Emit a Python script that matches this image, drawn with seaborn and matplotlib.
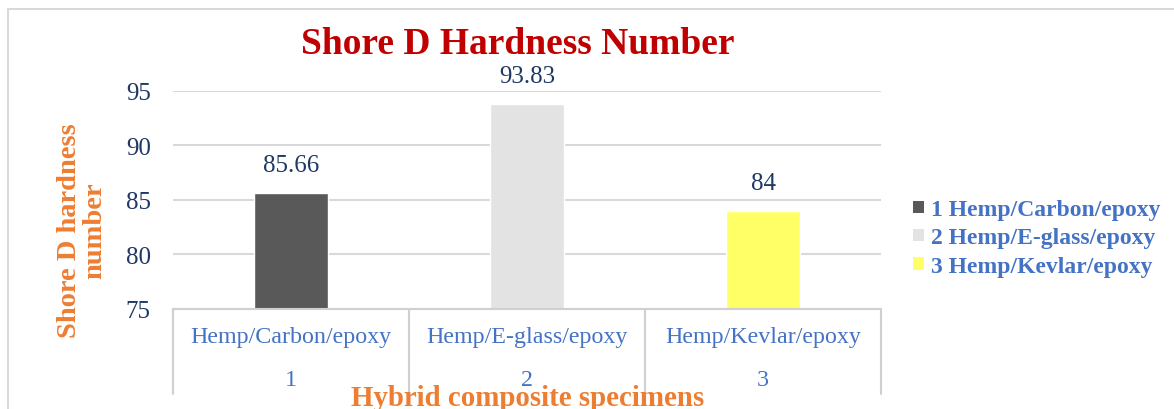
import matplotlib
matplotlib.use("Agg")
import matplotlib.pyplot as plt
import matplotlib.transforms as mtransforms
from matplotlib.patches import Rectangle, Patch
import seaborn as sns
import pandas as pd

categories = ["Hemp/Carbon/epoxy", "Hemp/E-glass/epoxy", "Hemp/Kevlar/epoxy"]
numbers = ["1", "2", "3"]
values = [85.66, 93.83, 84]
value_labels = ["85.66", "93.83", "84"]
colors = ["#595959", "#E3E3E3", "#FFFF66"]
yticks = [75, 80, 85, 90, 95]

sns.set_theme(style="white")
plt.rcParams['font.family'] = ['Liberation Serif', 'DejaVu Serif']

df = pd.DataFrame({"cat": categories, "val": values})

fig = plt.figure(figsize=(11.74, 4.10), dpi=100)
ax = fig.add_axes([173/1174, 1-310/410, (881-173)/1174, (310-92)/410])

sns.barplot(data=df, x="cat", y="val", hue="cat", palette=colors, width=0.31,
            legend=False, ax=ax, saturation=1)

ax.set_ylim(75, 95)
ax.set_xlim(-0.5, 2.5)
ax.set_yticks(yticks)
ax.yaxis.grid(True, color="#D9D9D9", linewidth=1.5)
ax.set_axisbelow(True)
for s in ["top", "right", "left"]:
    ax.spines[s].set_visible(False)
ax.spines["bottom"].set_color("#D0D0D0")
ax.spines["bottom"].set_linewidth(1.5)
ax.tick_params(axis="y", length=0, pad=16, labelsize=18, labelcolor="#1F3864")
ax.set_xticks([])
ax.set_xlabel("")
ax.set_ylabel("")

# data labels
for i, (v, lab) in enumerate(zip(values, value_labels)):
    ax.annotate(lab, (i, v), xytext=(0, 12), textcoords="offset points",
                ha="center", va="bottom", fontsize=18, color="#1F3864",
                annotation_clip=False)

# two-level category axis
trans = mtransforms.blended_transform_factory(ax.transData, ax.transAxes)
for i, (c, n) in enumerate(zip(categories, numbers)):
    ax.text(i, -0.128, c, transform=trans, ha="center", va="center",
            fontsize=17.3, color="#4472C4")
    ax.text(i, -0.322, n, transform=trans, ha="center", va="center",
            fontsize=17.3, color="#4472C4")
for xs in [-0.5, 0.5, 1.5, 2.5]:
    ax.plot([xs, xs], [0, -0.39], transform=trans, color="#D0D0D0",
            linewidth=1.5, clip_on=False)

# titles
fig.text(518/1174, 1-45/410, "Shore D Hardness Number", ha="center", va="center",
         fontsize=27, fontweight="bold", color="#C00000")
fig.text(82/1174, 1-231/410, "Shore D hardness\nnumber", ha="center", va="center",
         rotation=90, fontsize=20.5, fontweight="bold", color="#ED7D31",
         linespacing=1.05)
fig.text(528/1174, 1-399/410, "Hybrid composite specimens", ha="center", va="center",
         fontsize=20.8, fontweight="bold", color="#ED7D31")

# legend
handles = [Patch(facecolor=c, edgecolor="none") for c in colors]
labels = [f"{n} {c}" for n, c in zip(numbers, categories)]
leg = fig.legend(handles, labels, loc="center left",
                 bbox_to_anchor=(892/1174, 1-239/410), frameon=False,
                 handlelength=0.45, handleheight=0.45, handletextpad=0.3,
                 labelspacing=0.3, prop={"weight": "bold", "size": 17})
for t in leg.get_texts():
    t.set_color("#4472C4")

# outer frame
fig.patches.append(Rectangle((8/1174, -0.1), 1.2, 1.1 - 10/410,
                             transform=fig.transFigure, fill=False,
                             edgecolor="#D9D9D9", linewidth=1.5))

fig.savefig("out.png", dpi=100)
